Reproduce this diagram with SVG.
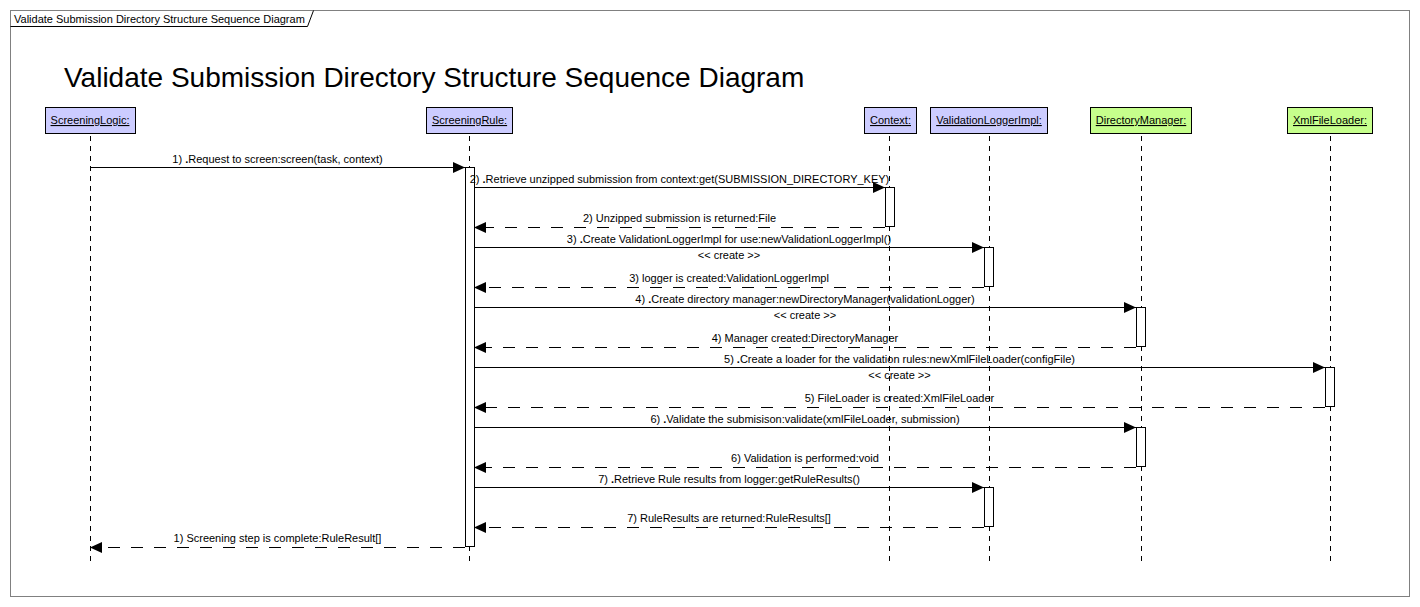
<svg xmlns="http://www.w3.org/2000/svg" width="1420" height="607" viewBox="0 0 1420 607">
<defs>
<style>
text{font-family:"Liberation Sans",Arial,sans-serif;font-size:11px;fill:#000}
.hdr{text-anchor:middle;text-decoration:underline}
.lbl{text-anchor:middle}
.box{stroke:#000;stroke-width:1}
.blue{fill:#ccccff}
.green{fill:#c6ff8c}
.life{stroke:#000;stroke-width:1;stroke-dasharray:5 5;fill:none}
.act{fill:#fff;stroke:#000;stroke-width:1}
.msg{stroke:#000;stroke-width:1;fill:none;marker-end:url(#ah)}
.ret{stroke:#000;stroke-width:1;fill:none;stroke-dasharray:12 11;marker-end:url(#ah)}
.b{font-weight:bold}
</style>
<marker id="ah" markerUnits="userSpaceOnUse" markerWidth="13" markerHeight="12" refX="12" refY="5.5" orient="auto">
<path d="M0,0 L12,5.5 L0,11 z" fill="#000"/>
</marker>
</defs>
<rect x="0" y="0" width="1420" height="607" fill="#fff"/>
<g id="frame">
<rect x="10.5" y="10.5" width="1399" height="586" fill="none" stroke="#808080" stroke-width="1"/>
<path d="M10.5,26.5 L307.5,26.5 L313.5,10.5" fill="none" stroke="#000" stroke-width="1"/>
<text x="14" y="23">Validate Submission Directory Structure Sequence Diagram</text>
</g>
<text x="64" y="87" style="font-size:28px">Validate Submission Directory Structure Sequence Diagram</text>

<g id="ScreeningLogic">
<rect class="box blue" x="45.5" y="107.5" width="90" height="26"/>
<text class="hdr" x="90" y="124">ScreeningLogic:</text>
<line class="life" x1="90.5" y1="136" x2="90.5" y2="562"/>
</g>
<g id="ScreeningRule">
<rect class="box blue" x="426.5" y="107.5" width="86" height="26"/>
<text class="hdr" x="469.5" y="124">ScreeningRule:</text>
<line class="life" x1="469.5" y1="136" x2="469.5" y2="562"/>
<rect class="act" x="465.5" y="167.5" width="9" height="379"/>
</g>
<g id="Context">
<rect class="box blue" x="864.5" y="107.5" width="52" height="26"/>
<text class="hdr" x="890.5" y="124">Context:</text>
<line class="life" x1="889.5" y1="136" x2="889.5" y2="562"/>
<rect class="act" x="885.5" y="187.5" width="9" height="39"/>
</g>
<g id="ValidationLoggerImpl">
<rect class="box blue" x="930.5" y="107.5" width="117" height="26"/>
<text class="hdr" x="989" y="124">ValidationLoggerImpl:</text>
<line class="life" x1="989.5" y1="136" x2="989.5" y2="562"/>
<rect class="act" x="984.5" y="247.5" width="9" height="39"/>
<rect class="act" x="984.5" y="487.5" width="9" height="39"/>
</g>
<g id="DirectoryManager">
<rect class="box green" x="1090.5" y="107.5" width="101" height="26"/>
<text class="hdr" x="1141" y="124">DirectoryManager:</text>
<line class="life" x1="1141.5" y1="136" x2="1141.5" y2="562"/>
<rect class="act" x="1136.5" y="307.5" width="9" height="39"/>
<rect class="act" x="1136.5" y="427.5" width="9" height="39"/>
</g>
<g id="XmlFileLoader">
<rect class="box green" x="1287.5" y="107.5" width="85" height="26"/>
<text class="hdr" x="1330" y="124">XmlFileLoader:</text>
<line class="life" x1="1330.5" y1="136" x2="1330.5" y2="562"/>
<rect class="act" x="1325.5" y="367.5" width="9" height="39"/>
</g>

<g id="connectors">
<line class="msg" x1="90" y1="167.5" x2="465" y2="167.5"/>
<text class="lbl" x="277.5" y="163">1) <tspan class="b">.</tspan>Request to screen:screen(task, context)</text>

<line class="msg" x1="474" y1="187.5" x2="885" y2="187.5"/>
<text class="lbl" x="679.5" y="183">2) <tspan class="b">.</tspan>Retrieve unzipped submission from context:get(SUBMISSION_DIRECTORY_KEY)</text>
<line class="ret" x1="885" y1="227.5" x2="474" y2="227.5"/>
<text class="lbl" x="679.5" y="222">2) Unzipped submission is returned:File</text>

<line class="msg" x1="474" y1="247.5" x2="984" y2="247.5"/>
<text class="lbl" x="729" y="243">3) <tspan class="b">.</tspan>Create ValidationLoggerImpl for use:newValidationLoggerImpl()</text>
<text class="lbl" x="729" y="259">&lt;&lt; create &gt;&gt;</text>
<line class="ret" x1="984" y1="287.5" x2="474" y2="287.5"/>
<text class="lbl" x="729" y="282">3) logger is created:ValidationLoggerImpl</text>

<line class="msg" x1="474" y1="307.5" x2="1136" y2="307.5"/>
<text class="lbl" x="805" y="303">4) <tspan class="b">.</tspan>Create directory manager:newDirectoryManager(validationLogger)</text>
<text class="lbl" x="805" y="319">&lt;&lt; create &gt;&gt;</text>
<line class="ret" x1="1136" y1="347.5" x2="474" y2="347.5"/>
<text class="lbl" x="805" y="342">4) Manager created:DirectoryManager</text>

<line class="msg" x1="474" y1="367.5" x2="1325" y2="367.5"/>
<text class="lbl" x="899.5" y="363">5) <tspan class="b">.</tspan>Create a loader for the validation rules:newXmlFileLoader(configFile)</text>
<text class="lbl" x="899.5" y="379">&lt;&lt; create &gt;&gt;</text>
<line class="ret" x1="1325" y1="407.5" x2="474" y2="407.5"/>
<text class="lbl" x="899.5" y="402">5) FileLoader is created:XmlFileLoader</text>

<line class="msg" x1="474" y1="427.5" x2="1136" y2="427.5"/>
<text class="lbl" x="805" y="423">6) <tspan class="b">.</tspan>Validate the submisison:validate(xmlFileLoader, submission)</text>
<line class="ret" x1="1136" y1="467.5" x2="474" y2="467.5"/>
<text class="lbl" x="805" y="462">6) Validation is performed:void</text>

<line class="msg" x1="474" y1="487.5" x2="984" y2="487.5"/>
<text class="lbl" x="729" y="483">7) <tspan class="b">.</tspan>Retrieve Rule results from logger:getRuleResults()</text>
<line class="ret" x1="984" y1="527.5" x2="474" y2="527.5"/>
<text class="lbl" x="729" y="522">7) RuleResults are returned:RuleResults[]</text>

<line class="ret" x1="465" y1="547.5" x2="90" y2="547.5"/>
<text class="lbl" x="277.5" y="542">1) Screening step is complete:RuleResult[]</text>
</g>
</svg>
